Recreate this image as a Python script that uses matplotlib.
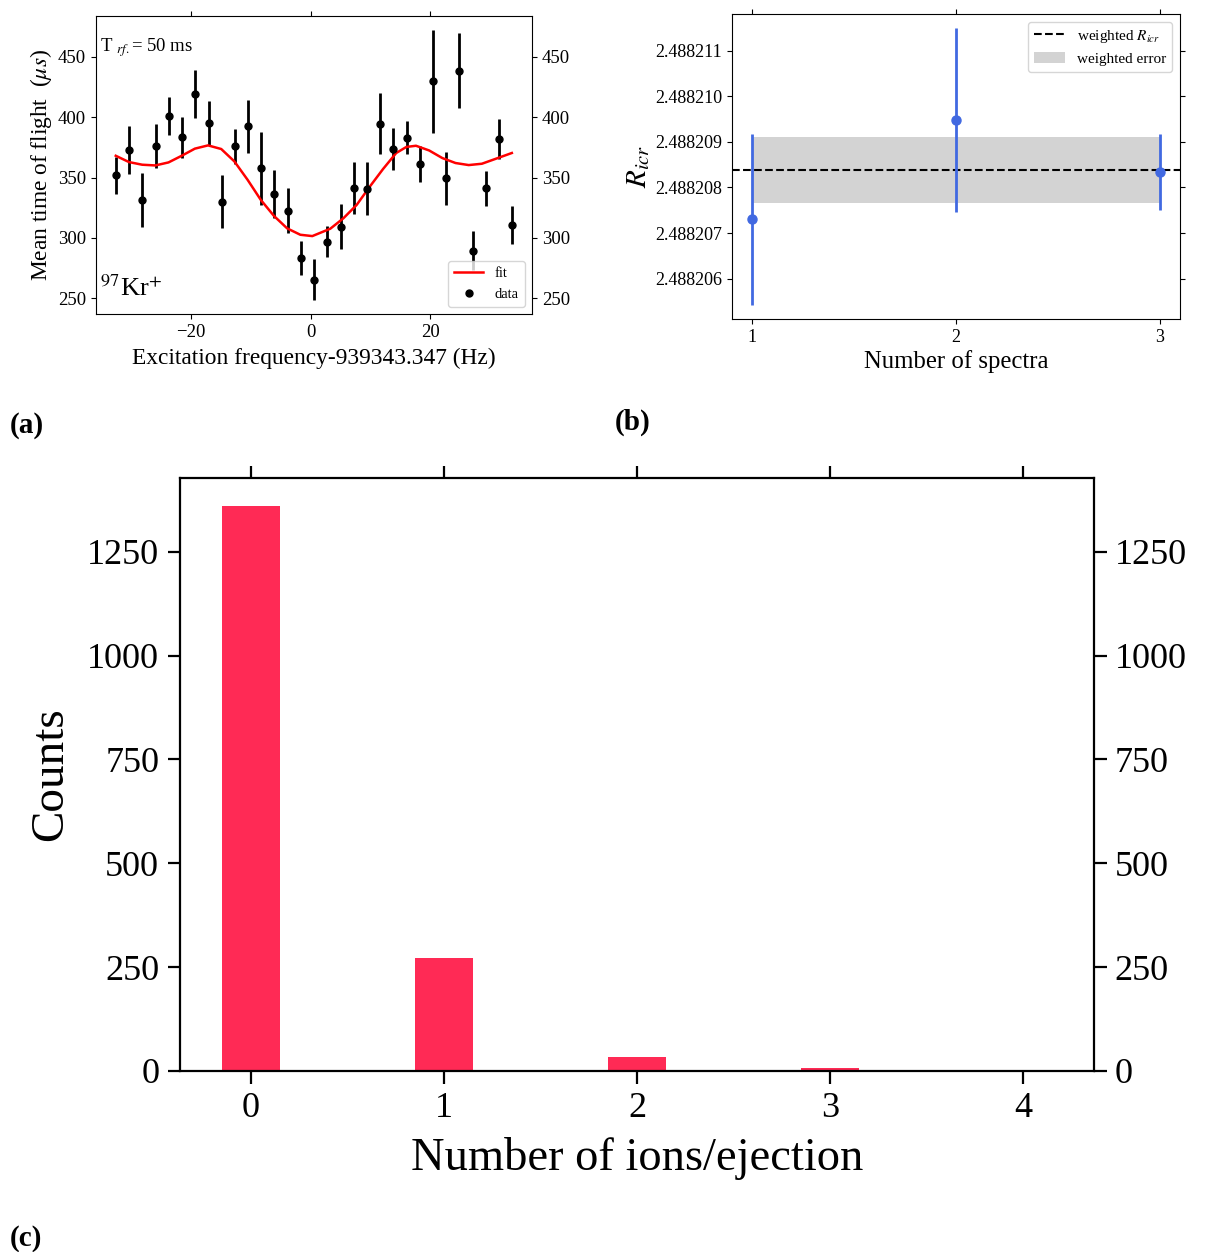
import numpy as np
import matplotlib
matplotlib.use('Agg')
import matplotlib.pyplot as plt
import matplotlib.ticker as mticker
from matplotlib.patches import Patch
from matplotlib.lines import Line2D

plt.rcParams['font.family'] = ['Liberation Serif', 'DejaVu Serif']
plt.rcParams['mathtext.fontset'] = 'stix'

# (a) TOF resonance
freq = [-32.45, -30.25, -28.04, -25.84, -23.64, -21.43, -19.23, -17.02, -14.82, -12.62,
        -10.41, -8.21, -6.01, -3.80, -1.60, 0.61, 2.81, 5.01, 7.22, 9.42,
        11.63, 13.83, 16.03, 18.24, 20.44, 22.64, 24.85, 27.05, 29.26, 31.46, 33.66]
tof = [351.7, 372.7, 331.4, 376.0, 400.7, 383.2, 419.0, 395.2, 329.8, 375.8,
       392.4, 357.5, 336.1, 322.6, 283.5, 265.5, 296.8, 309.3, 341.4, 340.6,
       394.6, 373.5, 383.0, 361.4, 429.8, 349.4, 438.6, 289.3, 341.1, 381.9, 310.4]
tof_err = [15.4, 20.0, 22.0, 18.4, 15.8, 17.3, 20.0, 18.4, 22.0, 14.5,
           22.0, 30.0, 20.0, 18.5, 14.3, 17.3, 12.9, 18.7, 21.5, 22.0,
           25.0, 17.6, 13.9, 14.8, 42.7, 22.0, 30.7, 16.2, 14.4, 16.8, 15.7]
fit_freq = [-32.5, -30.3, -28.1, -25.9, -23.7, -21.5, -19.3, -17.1, -14.9, -12.7,
            -10.5, -8.3, -6.1, -3.9, -1.7, 0.3, 3.3, 5.5, 7.7, 9.9,
            12.1, 14.3, 16.0, 17.6, 19.8, 22.0, 24.2, 26.4, 28.6, 30.8, 33.6]
fit_tof = [368.0, 362.8, 360.6, 360.0, 362.5, 368.0, 373.9, 376.6, 373.6, 363.3,
           348.1, 331.5, 318.2, 307.9, 302.6, 301.5, 307.6, 316.3, 327.3, 342.5,
           357.0, 370.3, 375.3, 376.3, 372.4, 366.1, 362.0, 360.3, 361.4, 365.3, 370.3]

# (b) R_icr per spectrum
spectra = [1, 2, 3]
ricr = [2.4882073, 2.48820948, 2.48820834]
ricr_err = [1.88e-6, 2.02e-6, 0.83e-6]
ricr_weighted = 2.48820838
ricr_weighted_err = 0.73e-6

# (c) ions per ejection
n_ions = [0, 1, 2, 3, 4]
counts = [1360, 272, 34, 6, 1]

fig = plt.figure(figsize=(12.13, 12.52), dpi=100)

# ---- panel (a)
ax1 = fig.add_axes([0.0791, 0.7492, 0.3595, 0.2380])
ax1.plot(fit_freq, fit_tof, color='red', lw=1.8, label='fit', zorder=3)
ax1.errorbar(freq, tof, yerr=tof_err, fmt='none', ecolor='black', elinewidth=2, capsize=0)
ax1.plot(freq, tof, 'o', color='black', ms=5, label='data', zorder=4)
ax1.set_xlabel('Excitation frequency-939343.347 (Hz)', fontsize=16.8, labelpad=5)
ax1.set_ylabel(r'Mean time of flight  ($\mu s$)', fontsize=16.8, labelpad=3)
ax1.set_xticks([-20, 0, 20])
ax1.set_yticks([250, 300, 350, 400, 450])
ax1.tick_params(labelsize=13.5, top=True, right=True, labelright=True)
ax1.text(0.01, 0.893, r'T $_{rf.}$= 50 ms', transform=ax1.transAxes, fontsize=13.5, va='center')
ax1.text(0.01, 0.087, r'$^{97}$Kr$^{+}$', transform=ax1.transAxes, fontsize=19, va='center')
ax1.legend(loc='lower right', fontsize=10.5, handlelength=2.0)

# ---- panel (b)
ax2 = fig.add_axes([0.6035, 0.7452, 0.3693, 0.2436])
ax2.axhline(ricr_weighted, color='black', ls='--', lw=1.5)
ax2.fill_between([1, 3], ricr_weighted - ricr_weighted_err, ricr_weighted + ricr_weighted_err,
                 color='lightgray', lw=0)
ax2.errorbar(spectra, ricr, yerr=ricr_err, fmt='o', color='royalblue', ms=6.5,
             elinewidth=2, capsize=0)
ax2.set_xticks(spectra)
ax2.yaxis.set_major_locator(mticker.MultipleLocator(1e-6))
ax2.yaxis.set_major_formatter(mticker.FormatStrFormatter('%.6f'))
ax2.tick_params(labelsize=13, top=True, right=True)
ax2.set_xlabel('Number of spectra', fontsize=17.8, labelpad=3)
ax2.set_ylabel(r'$R_{icr}$', fontsize=21, labelpad=2)
handles = [Line2D([], [], color='black', ls='--', lw=1.5),
           Patch(color='lightgray', lw=0)]
ax2.legend(handles, [r'weighted $R_{icr}$', 'weighted error'], loc='upper right', fontsize=11)

# ---- panel (c)
ax3 = fig.add_axes([0.1484, 0.1446, 0.7535, 0.4737])
ax3.bar(n_ions, counts, width=0.3, color='#ff2a55')
ax3.set_xticks(n_ions)
ax3.set_yticks([0, 250, 500, 750, 1000, 1250])
ax3.tick_params(labelsize=26, top=True, right=True, labelright=True,
                length=9, width=1.6, pad=6)
for s in ax3.spines.values():
    s.set_linewidth(1.6)
ax3.set_xlabel('Number of ions/ejection', fontsize=33.5, labelpad=9)
ax3.set_ylabel('Counts', fontsize=34, labelpad=11)

fig.text(10 / 1213, 1 - 425 / 1252, '(a)', fontsize=21, fontweight='bold', va='center')
fig.text(615 / 1213, 1 - 422 / 1252, '(b)', fontsize=21, fontweight='bold', va='center')
fig.text(10 / 1213, 1 - 1238 / 1252, '(c)', fontsize=21, fontweight='bold', va='center')

fig.savefig('out.png', dpi=100)
